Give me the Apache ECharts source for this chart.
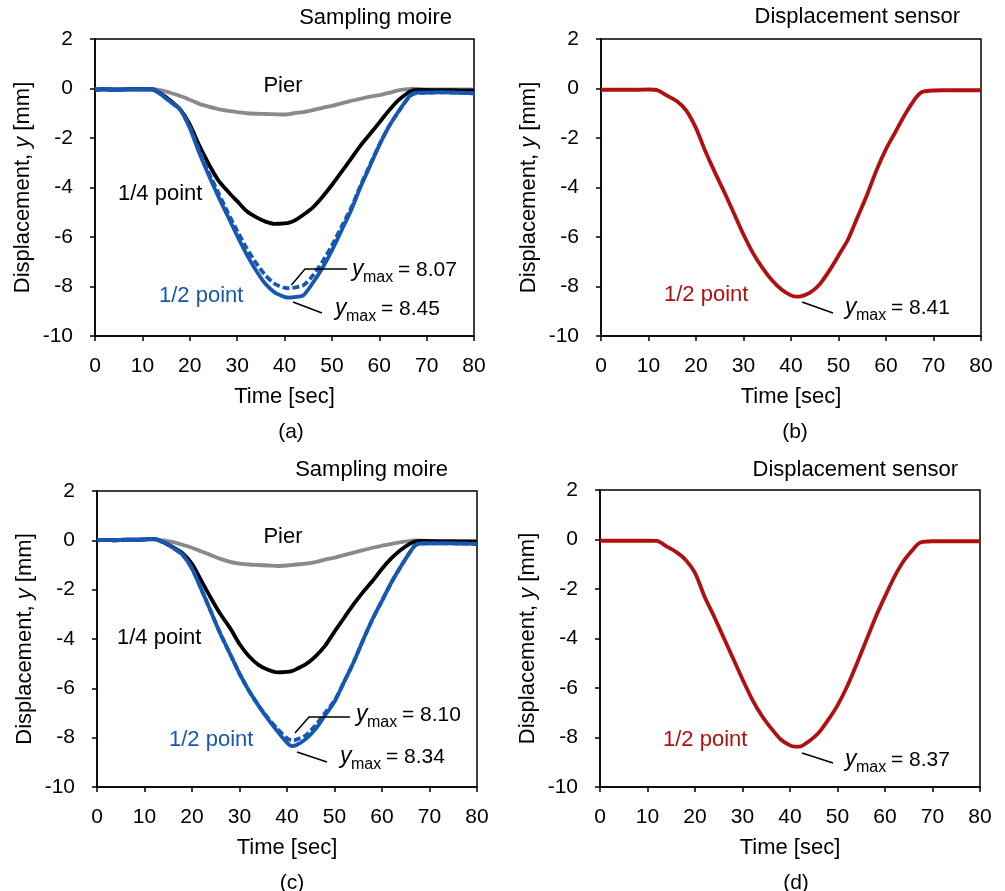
<!DOCTYPE html>
<html>
<head>
<meta charset="utf-8">
<script src="https://cdn.jsdelivr.net/npm/echarts@6/dist/echarts.min.js"></script>
<style>
  html, body { margin: 0; padding: 0; background: #fff; }
  #chart { width: 1005px; height: 891px; }
</style>
</head>
<body>
<div id="chart"></div>
<script>
// time samples [sec], shared by every curve
const time = [0, 2, 4, 6, 8, 10, 12, 14, 16, 18, 20, 22, 24, 26, 28, 30, 32, 34, 36, 38, 40, 41, 42, 44, 46, 48, 50, 52, 54, 56, 58, 60, 62, 64, 66, 67, 68, 70, 72, 74, 76, 78, 80];

// (a) sampling moire
const pierA = [-0.03, -0.03, -0.03, -0.03, -0.03, -0.03, -0.03, -0.08, -0.18, -0.3, -0.45, -0.62, -0.73, -0.83, -0.9, -0.95, -1.0, -1.02, -1.03, -1.04, -1.05, -1.04, -1.0, -0.95, -0.87, -0.78, -0.7, -0.6, -0.5, -0.42, -0.33, -0.27, -0.18, -0.08, -0.03, -0.01, -0.02, -0.04, -0.04, -0.04, -0.04, -0.04, -0.04];
const quarterA = [-0.05, -0.03, -0.05, -0.04, -0.03, -0.03, -0.03, -0.22, -0.5, -0.85, -1.45, -2.3, -3.05, -3.7, -4.15, -4.55, -4.95, -5.2, -5.38, -5.47, -5.45, -5.42, -5.35, -5.1, -4.8, -4.38, -3.9, -3.38, -2.85, -2.32, -1.85, -1.38, -0.9, -0.48, -0.18, -0.08, -0.06, -0.06, -0.07, -0.07, -0.07, -0.08, -0.08];
const halfA = [-0.05, -0.03, -0.05, -0.04, -0.03, -0.03, -0.03, -0.25, -0.55, -0.85, -1.6, -2.6, -3.5, -4.35, -5.15, -5.95, -6.7, -7.35, -7.9, -8.25, -8.42, -8.45, -8.43, -8.35, -7.85, -7.25, -6.55, -5.75, -4.95, -4.0, -3.15, -2.3, -1.55, -0.95, -0.4, -0.22, -0.17, -0.17, -0.16, -0.16, -0.17, -0.18, -0.2];
const halfDashA = [-0.05, -0.03, -0.05, -0.04, -0.03, -0.03, -0.03, -0.25, -0.55, -0.85, -1.55, -2.5, -3.4, -4.2, -5.0, -5.75, -6.45, -7.05, -7.55, -7.9, -8.05, -8.07, -8.05, -7.95, -7.55, -7.0, -6.35, -5.6, -4.85, -3.95, -3.1, -2.28, -1.55, -0.95, -0.42, -0.24, -0.18, -0.17, -0.16, -0.16, -0.17, -0.18, -0.2];

// (b) displacement sensor
const sensorB = [-0.05, -0.05, -0.05, -0.05, -0.05, -0.04, -0.08, -0.3, -0.52, -0.9, -1.6, -2.55, -3.4, -4.2, -5.05, -5.9, -6.65, -7.25, -7.75, -8.12, -8.36, -8.41, -8.4, -8.25, -7.92, -7.38, -6.75, -6.1, -5.2, -4.3, -3.3, -2.45, -1.75, -1.05, -0.45, -0.22, -0.12, -0.08, -0.07, -0.07, -0.07, -0.07, -0.07];

// (c) sampling moire
const pierC = [0.0, 0.02, 0.01, 0.02, 0.02, 0.02, 0.03, 0.0, -0.07, -0.18, -0.3, -0.45, -0.6, -0.75, -0.87, -0.94, -0.98, -1.0, -1.02, -1.04, -1.02, -1.0, -0.98, -0.94, -0.88, -0.78, -0.7, -0.6, -0.5, -0.4, -0.3, -0.22, -0.14, -0.07, -0.02, 0.0, -0.01, -0.02, -0.02, -0.02, -0.02, -0.02, -0.02];
const quarterC = [0.0, 0.02, 0.0, 0.03, 0.03, 0.04, 0.06, -0.08, -0.28, -0.52, -0.95, -1.65, -2.35, -3.0, -3.55, -4.2, -4.7, -5.05, -5.25, -5.35, -5.33, -5.3, -5.22, -5.02, -4.7, -4.28, -3.7, -3.15, -2.6, -2.1, -1.65, -1.15, -0.72, -0.38, -0.12, -0.05, -0.02, -0.03, -0.04, -0.04, -0.05, -0.05, -0.05];
const halfC = [0.0, 0.02, 0.0, 0.03, 0.03, 0.04, 0.06, -0.08, -0.3, -0.58, -1.15, -2.0, -2.9, -3.8, -4.6, -5.4, -6.1, -6.7, -7.25, -7.75, -8.2, -8.34, -8.3, -8.05, -7.65, -7.1, -6.55, -5.75, -4.95, -4.05, -3.2, -2.45, -1.7, -1.05, -0.45, -0.2, -0.13, -0.12, -0.12, -0.12, -0.13, -0.13, -0.15];
const halfDashC = [0.0, 0.02, 0.0, 0.03, 0.03, 0.04, 0.06, -0.08, -0.3, -0.58, -1.15, -2.0, -2.9, -3.8, -4.6, -5.4, -6.1, -6.7, -7.2, -7.65, -8.02, -8.1, -8.08, -7.9, -7.5, -7.0, -6.5, -5.75, -4.95, -4.05, -3.2, -2.45, -1.7, -1.05, -0.45, -0.2, -0.13, -0.12, -0.12, -0.12, -0.13, -0.13, -0.15];

// (d) displacement sensor
const sensorD = [-0.05, -0.05, -0.05, -0.05, -0.05, -0.05, -0.06, -0.28, -0.5, -0.82, -1.35, -2.3, -3.1, -3.95, -4.8, -5.65, -6.45, -7.1, -7.62, -8.07, -8.32, -8.37, -8.37, -8.15, -7.82, -7.3, -6.7, -5.95, -5.05, -4.1, -3.15, -2.3, -1.5, -0.85, -0.38, -0.17, -0.1, -0.07, -0.07, -0.07, -0.07, -0.07, -0.07];

// axis ticks
const xTicks = { min: 0, max: 80, step: 10 };
const yTicks = { min: -10, max: 2, step: 2 };

const FONT = "'Liberation Sans', Arial, Helvetica, sans-serif";
const BLUE = '#1657b4';
const RED = '#b01010';
const GRAY = '#8a8a8a';

const pairs = (ys) => time.map((t, i) => [t, ys[i]]);

const grids = [
  { left: 95, top: 39, width: 379, height: 297 },
  { left: 601, top: 39, width: 380, height: 297 },
  { left: 97, top: 491, width: 380, height: 296 },
  { left: 600, top: 490, width: 380, height: 297 },
];

const chart = echarts.init(document.getElementById('chart'));

const xAxes = grids.map((g, i) => ({
  type: 'value', gridIndex: i,
  min: xTicks.min, max: xTicks.max, interval: xTicks.step,
  name: 'Time [sec]', nameLocation: 'middle', nameGap: 50,
  nameTextStyle: { fontSize: 22, color: '#000', fontFamily: FONT },
  axisLine: { show: true, onZero: false, lineStyle: { color: '#000', width: 1.5 } },
  axisTick: { show: true, inside: false, length: 5, lineStyle: { color: '#000', width: 1.5 } },
  axisLabel: { fontSize: 21, color: '#000', fontFamily: FONT, margin: 20 },
  splitLine: { show: false },
}));

const yAxes = grids.map((g, i) => ({
  type: 'value', gridIndex: i,
  min: yTicks.min, max: yTicks.max, interval: yTicks.step,
  name: 'Displacement, {i|y} [mm]', nameLocation: 'middle', nameGap: 61,
  nameTextStyle: { fontSize: 22, color: '#000', fontFamily: FONT,
    rich: { i: { fontStyle: 'italic', fontSize: 22, color: '#000', fontFamily: FONT } } },
  axisLine: { show: true, onZero: false, lineStyle: { color: '#000', width: 1.5 } },
  axisTick: { show: true, inside: false, length: 5, lineStyle: { color: '#000', width: 1.5 } },
  axisLabel: { fontSize: 21, color: '#000', fontFamily: FONT, margin: 22 },
  splitLine: { show: false },
}));

function line(idx, ys, color, dashed) {
  return {
    type: 'line', xAxisIndex: idx, yAxisIndex: idx,
    data: pairs(ys), showSymbol: false, smooth: 0.25,
    lineStyle: { color: color, width: 3.8, type: dashed ? [7, 3] : 'solid' },
    silent: true,
  };
}

const series = [
  line(0, pierA, GRAY), line(0, quarterA, '#000'), line(0, halfDashA, BLUE, true), line(0, halfA, BLUE),
  line(1, sensorB, RED),
  line(2, pierC, GRAY), line(2, quarterC, '#000'), line(2, halfDashC, BLUE, true), line(2, halfC, BLUE),
  line(3, sensorD, RED),
];

// text helpers
function txt(text, x, y, opt) {
  opt = opt || {};
  return {
    type: 'text', x: x, y: y, z: 100,
    style: {
      text: text, fill: opt.color || '#000',
      font: (opt.italic ? 'italic ' : '') + (opt.size || 22) + 'px ' + FONT,
      textAlign: opt.align || 'left', textVerticalAlign: 'middle',
    },
  };
}
function ymax(x, y, value) {
  return [
    txt('y', x, y, { italic: true, size: 23 }),
    txt('max', x + 11, y + 8, { size: 16 }),
    txt('= ' + value, x + 46, y, { size: 21 }),
  ];
}
function lead(points) {
  return { type: 'polyline', z: 100, shape: { points: points }, style: { stroke: '#000', lineWidth: 1.5, fill: null } };
}

const graphic = [
  txt('Sampling moire', 452, 18, { align: 'right' }),
  txt('Displacement sensor', 960, 17, { align: 'right' }),
  txt('Sampling moire', 448, 470, { align: 'right' }),
  txt('Displacement sensor', 958, 470, { align: 'right' }),
  txt('(a)', 291, 432, { align: 'center', size: 21 }),
  txt('(b)', 795, 432, { align: 'center', size: 21 }),
  txt('(c)', 292, 883, { align: 'center', size: 21 }),
  txt('(d)', 796, 883, { align: 'center', size: 21 }),
  txt('Pier', 283, 86, { align: 'center' }),
  txt('1/4 point', 118, 194),
  txt('1/2 point', 159, 296, { color: BLUE }),
  txt('1/2 point', 664, 295, { color: RED }),
  txt('Pier', 283, 537, { align: 'center' }),
  txt('1/4 point', 117, 638),
  txt('1/2 point', 169, 740, { color: BLUE }),
  txt('1/2 point', 663, 740, { color: RED }),
  lead([[291.5, 285], [305, 269], [347, 269]]),
  lead([[293, 302], [322, 313]]),
  lead([[802, 302], [833, 313]]),
  lead([[295, 733], [309, 717], [350, 717]]),
  lead([[297, 752], [327, 762]]),
  lead([[802, 753], [833, 763]]),
].concat(ymax(352, 270, '8.07'), ymax(335, 309, '8.45'), ymax(845, 308, '8.41'),
  ymax(356, 715, '8.10'), ymax(340, 757, '8.34'), ymax(845, 760, '8.37'));

chart.setOption({
  animation: false,
  backgroundColor: '#fff',
  grid: grids.map(g => Object.assign({ show: true, borderColor: '#000', borderWidth: 1.5, containLabel: false }, g)),
  xAxis: xAxes,
  yAxis: yAxes,
  series: series,
  graphic: graphic,
});
</script>
</body>
</html>
